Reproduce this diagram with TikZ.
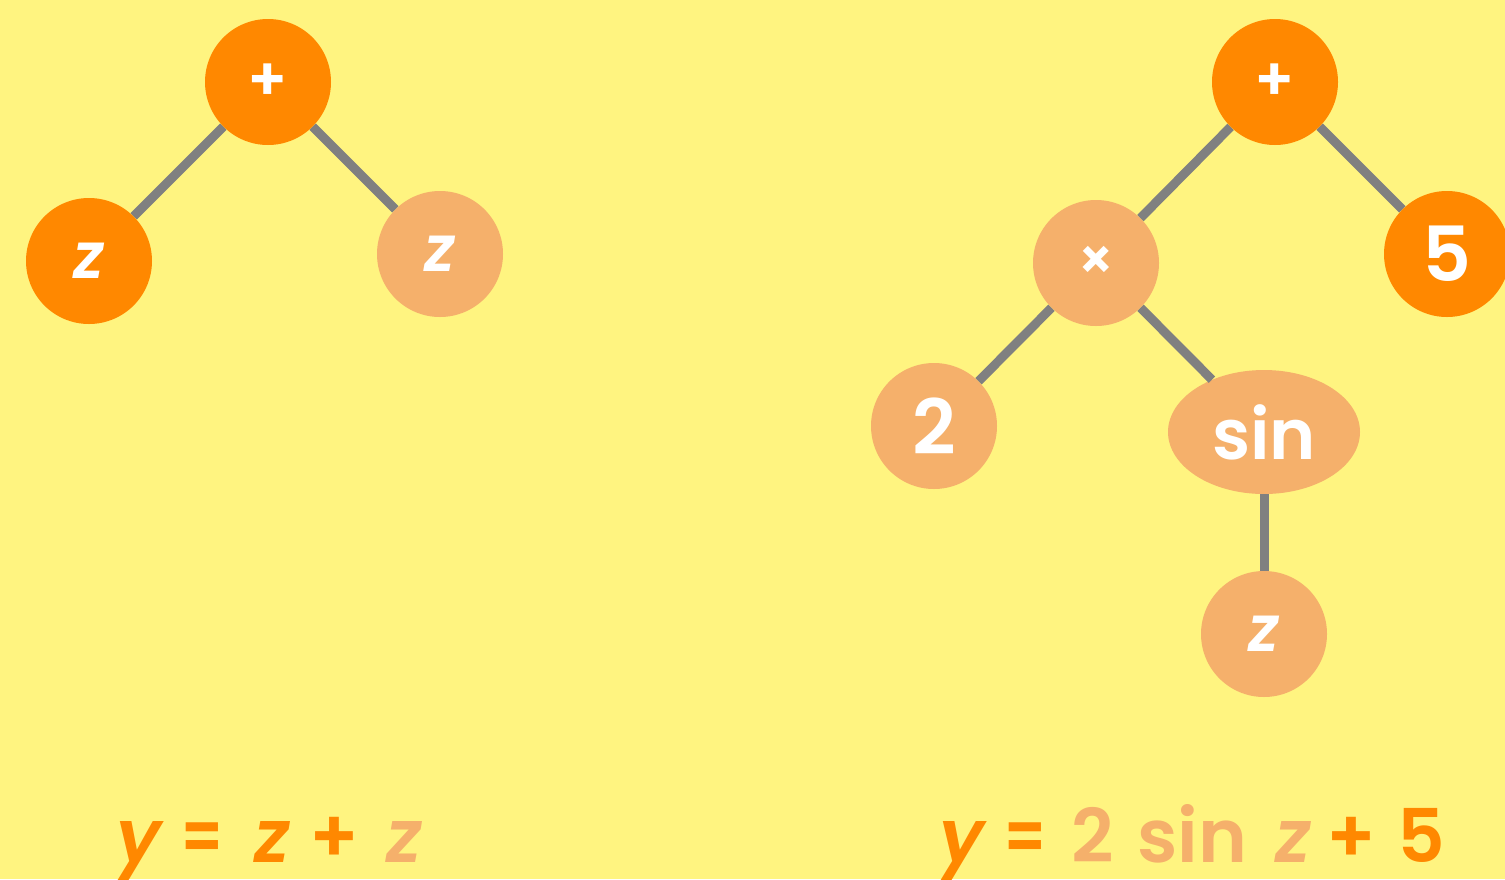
\documentclass[tikz,border=0pt]{standalone}
\usepackage{fontspec}
\setmainfont{Poppins}[BoldFont={Poppins SemiBold},BoldItalicFont={Poppins SemiBold Italic}]
\usetikzlibrary{shapes.geometric}
\definecolor{bg}{HTML}{FFF480}
\definecolor{dark}{HTML}{FF8800}
\definecolor{light}{HTML}{F5B06B}
\definecolor{edge}{HTML}{808080}
\tikzset{
  dnode/.style={circle,fill=dark,minimum size=126pt,inner sep=0pt,text=white,font=\bfseries\fontsize{64}{64}\selectfont},
  lnode/.style={circle,fill=light,minimum size=126pt,inner sep=0pt,text=white,font=\bfseries\fontsize{64}{64}\selectfont},
  link/.style={draw=edge,line width=9pt},
  tok/.style={anchor=base,inner sep=0pt,font=\bfseries\fontsize{74}{74}\selectfont},
}
\begin{document}
\begin{tikzpicture}[x=1pt,y=-1pt]
\fill[bg] (0,0) rectangle (1505,879);
\useasboundingbox (0,0) rectangle (1505,879);
\begin{scope}
\clip (0,0) rectangle (1505,879);
% left tree
\node[dnode] (p1) at (268,82) {\fontsize{60}{60}\selectfont +};
\node[dnode] (z1) at (89,261) {\itshape z};
\node[lnode] (z2) at (440,254) {\itshape z};
% right tree
\node[dnode] (p2) at (1275,82) {\fontsize{60}{60}\selectfont +};
\node[lnode] (tm) at (1096,263) {\fontsize{56}{56}\selectfont ×};
\node[dnode] (f5) at (1447,254) {\fontsize{76}{76}\selectfont 5};
\node[lnode] (t2) at (934,426) {\fontsize{76}{76}\selectfont 2};
\node[ellipse,fill=light,minimum width=192pt,minimum height=124pt,inner sep=0pt,text=white,font=\bfseries\fontsize{70}{70}\selectfont] (sn) at (1264,432) {sin};
\node[lnode] (z3) at (1264,634) {\itshape z};
% edges
\draw[link] (p1) -- (z1);
\draw[link] (p1) -- (z2);
\draw[link] (p2) -- (tm);
\draw[link] (p2) -- (f5);
\draw[link] (tm) -- (t2);
\draw[link] (tm) -- (sn);
\draw[link] (sn) -- (z3);
\end{scope}
% formulas
\node[tok,text=dark] (fy1) at (139,862) {\itshape y};
\node[tok,text=dark] (fe1) at (202,862) {\scalebox{0.8}[1]{=}};
\node[tok,text=dark] (fz1) at (272,862) {\itshape z};
\node[tok,text=dark] (fp1) at (334,862) {+};
\node[tok,text=light] (fz2) at (404,862) {\itshape z};
\node[tok,text=dark] (fy2) at (962,862) {\itshape y};
\node[tok,text=dark] (fe2) at (1025,862) {\scalebox{0.8}[1]{=}};
\node[tok,text=light] (f22) at (1093,862) {2};
\node[tok,text=light] (fs2) at (1192,862) {sin};
\node[tok,text=light] (fz3) at (1293,862) {\itshape z};
\node[tok,text=dark] (fp2) at (1351,862) {+};
\node[tok,text=dark] (f52) at (1421,862) {5};
\end{tikzpicture}
\end{document}
